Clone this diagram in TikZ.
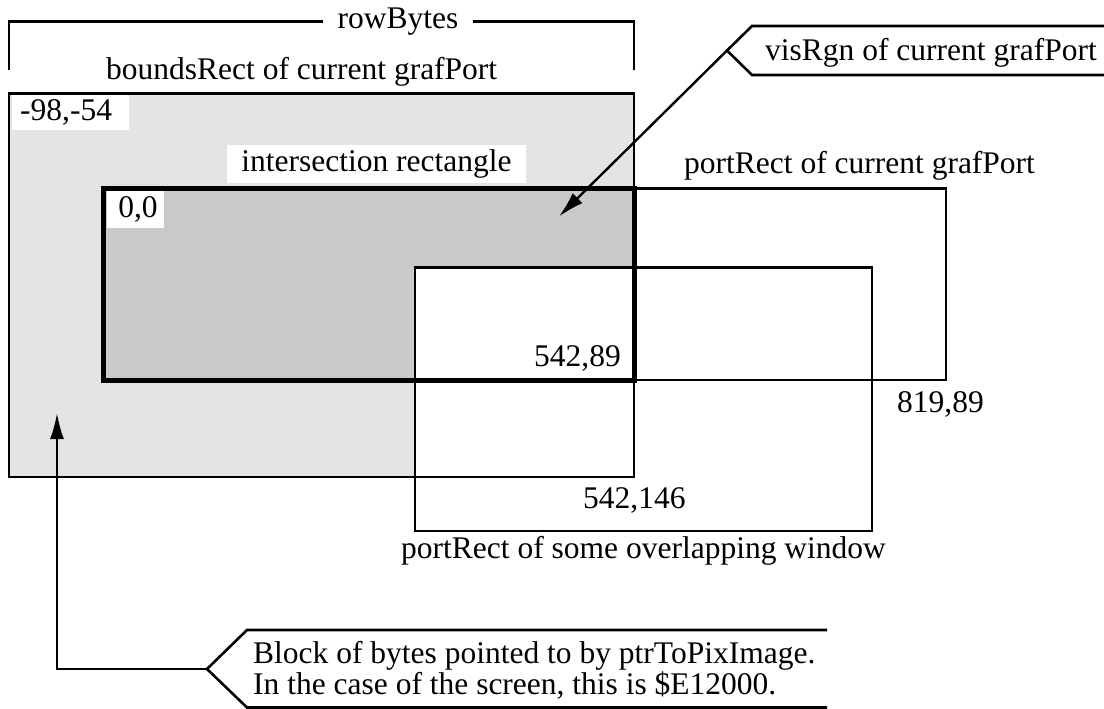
\documentclass[tikz,border=0pt]{standalone}
\usepackage{fontspec}
\setmainfont{Liberation Serif}
\usetikzlibrary{arrows.meta}
\definecolor{boundsgray}{gray}{0.894}
\definecolor{sectgray}{gray}{0.788}
\begin{document}
\begin{tikzpicture}[x=1pt,y=-1pt,
  txt/.style={inner sep=0pt, font=\fontsize{31.5}{31}\selectfont},
  whitetag/.style={txt, fill=white},
  thinrule/.style={line width=2.4pt},
  boldrule/.style={line width=5pt},
  calloutrule/.style={line width=2.6pt},
  pointer/.style={line width=2.4pt, -{Latex[length=26pt,width=14pt]}}]
\useasboundingbox (0,0) rectangle (1104,709);

% corners of the rectangles
\coordinate (bTL) at (9,93.5);   \coordinate (bBR) at (634,477);
\coordinate (iTL) at (103,188.5); \coordinate (iBR) at (634,380);
\coordinate (wTL) at (415,267.5); \coordinate (wBR) at (872,531);
\coordinate (pTR) at (946,188.5);

% fills: boundsRect, intersection, overlapping window
\fill[boundsgray] (bTL) rectangle (bBR);
\fill[sectgray] (iTL) rectangle (iBR);
\fill[white] (wTL) rectangle (wBR);

% white tags inside the shaded areas
\node[whitetag, anchor=north west, minimum width=117pt, minimum height=35pt,
      text width=101pt, align=left] (topleft) at (12,95) {-98,-54};
\node[whitetag, minimum width=299pt, minimum height=38pt] (sectlabel) at (376.5,164) {intersection rectangle};
\node[whitetag, anchor=north west, minimum width=57pt, minimum height=37pt,
      text width=44pt, align=right] (origin) at (107,191) {0,0};

% outlines
\draw[thinrule] (wTL) rectangle (wBR);
\draw[thinrule] (bTL) rectangle (bBR);
\draw[thinrule] (iBR) -| (pTR) -- (iBR |- pTR);
\draw[boldrule] (iTL) rectangle (iBR);

% rowBytes bracket
\node[txt, minimum width=150pt] (rowbytes) at (398,21.5) {rowBytes};
\coordinate (brL) at (9,70);
\coordinate (brR) at (634,70);
\draw[thinrule] (brL) |- (rowbytes.west);
\draw[thinrule] (brR) |- (rowbytes.east);

% plain labels
\node[txt, anchor=base west] (boundslabel) at (106,80) {boundsRect of current grafPort};
\node[txt, anchor=base west] (portlabel) at (684,173) {portRect of current grafPort};
\node[txt, anchor=base east] (sectcorner) at (621,366) {542,89};
\node[txt, anchor=base west] (portcorner) at (897,412) {819,89};
\node[txt, anchor=base west] (boundscorner) at (583,508) {542,146};
\node[txt, anchor=base west] (winlabel) at (401,558) {portRect of some overlapping window};

% visRgn callout
\coordinate (visnotch) at (727,50.5);
\coordinate (vistip) at (559,216.5);
\draw[calloutrule] (1106,26) -- (752,26) -- (visnotch) -- (752,75) -- (1106,75);
\node[txt, anchor=base west] (vistext) at (765,61) {visRgn of current grafPort};
\draw[pointer] (visnotch) -- (vistip);

% pixel image callout
\coordinate (blocknotch) at (207,669);
\coordinate (pixtip) at (57,413);
\draw[calloutrule] (827,630) -- (247,630) -- (blocknotch) -- (247,707.5) -- (827,707.5);
\node[txt, anchor=base west] (blockline1) at (253,663) {Block of bytes pointed to by ptrToPixImage.};
\node[txt, anchor=base west] (blockline2) at (253,694) {In the case of the screen, this is \$E12000.};
\draw[pointer] (blocknotch) -| (pixtip);
\end{tikzpicture}
\end{document}
